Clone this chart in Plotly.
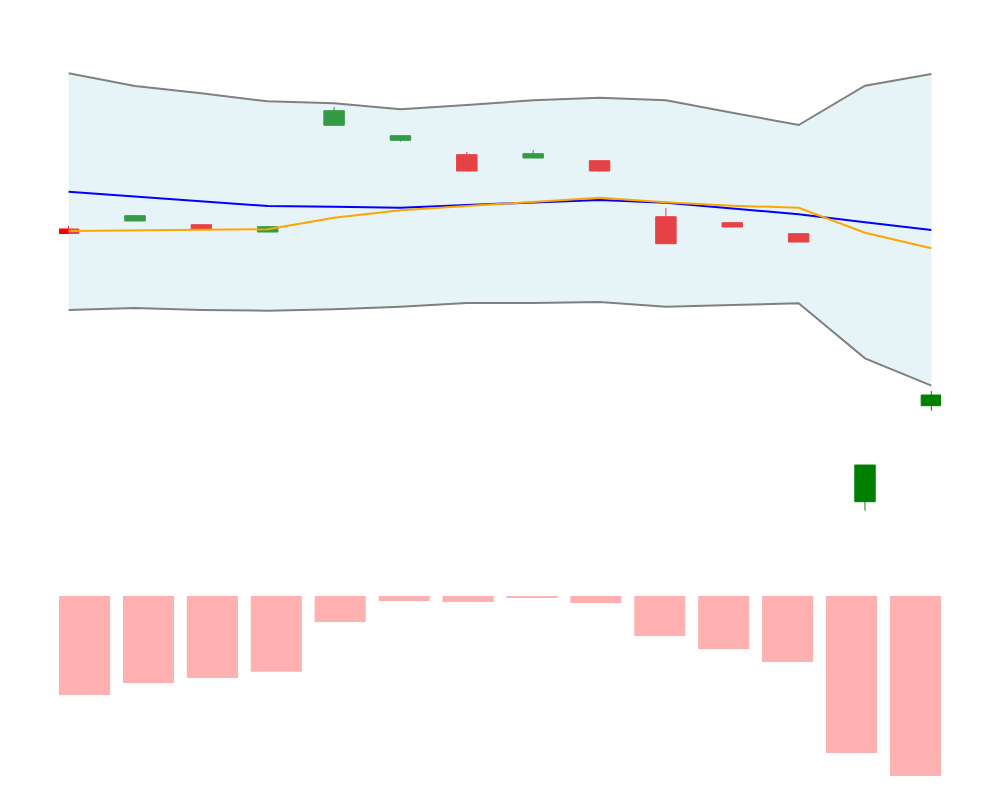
import plotly.graph_objects as go

# ---- data ----
days = list(range(14))

open_ = [127.10, 127.90, 127.53, 126.80, 137.47, 135.97, 134.53, 134.20, 133.93, 128.33, 127.73, 126.63, 99.83, 109.43]
high_ = [127.40, 128.50, 127.60, 127.40, 139.30, 136.43, 134.80, 135.00, 134.00, 129.20, 127.73, 126.63, 103.50, 110.90]
low_ = [126.63, 127.90, 127.10, 126.80, 137.43, 135.83, 132.83, 134.20, 132.83, 125.63, 127.23, 125.80, 98.93, 108.93]
close_ = [126.65, 128.43, 127.10, 127.33, 138.93, 136.43, 132.90, 134.63, 132.90, 125.63, 127.30, 125.80, 103.50, 110.50]

upper_band = [142.67, 141.40, 140.67, 139.87, 139.67, 139.07, 139.50, 139.97, 140.23, 139.97, 138.73, 137.50, 141.43, 142.60]
middle_band = [130.83, 130.33, 129.83, 129.40, 129.33, 129.23, 129.50, 129.73, 130.00, 129.73, 129.17, 128.57, 127.77, 127.00]
lower_band = [119.00, 119.20, 119.00, 118.93, 119.07, 119.33, 119.70, 119.70, 119.80, 119.33, 119.50, 119.67, 114.17, 111.43]
short_ma = [126.90, 127.00, 127.03, 127.07, 128.23, 128.97, 129.40, 129.83, 130.23, 129.77, 129.43, 129.23, 126.73, 125.17]

volume = [990000, 870000, 820000, 757000, 260000, 50000, 60000, 20000, 70000, 400000, 530000, 660000, 1570000, 1800000]

fig = go.Figure()

fig.add_trace(go.Candlestick(
    x=days, open=open_, high=high_, low=low_, close=close_,
    increasing=dict(line=dict(color="green", width=1), fillcolor="green"),
    decreasing=dict(line=dict(color="red", width=1), fillcolor="red"),
    whiskerwidth=0,
    xaxis="x", yaxis="y", showlegend=False,
))

fig.add_trace(go.Scatter(
    x=days, y=upper_band, mode="lines",
    line=dict(color="gray", width=2),
    xaxis="x", yaxis="y", showlegend=False,
))
fig.add_trace(go.Scatter(
    x=days, y=lower_band, mode="lines",
    line=dict(color="gray", width=2),
    fill="tonexty", fillcolor="rgba(173,216,230,0.3)",
    xaxis="x", yaxis="y", showlegend=False,
))
fig.add_trace(go.Scatter(
    x=days, y=middle_band, mode="lines",
    line=dict(color="blue", width=2),
    xaxis="x", yaxis="y", showlegend=False,
))
fig.add_trace(go.Scatter(
    x=days, y=short_ma, mode="lines",
    line=dict(color="orange", width=2),
    xaxis="x", yaxis="y", showlegend=False,
))

fig.add_trace(go.Bar(
    x=days, y=volume, marker=dict(color="red", line=dict(width=0)), opacity=0.3,
    xaxis="x2", yaxis="y2", showlegend=False,
))

fig.update_layout(
    width=1000, height=800,
    margin=dict(l=59, r=59, t=0, b=0, pad=0),
    paper_bgcolor="white", plot_bgcolor="white",
    showlegend=False,
    boxgap=0.56,
    xaxis=dict(domain=[0, 1], anchor="y", range=[-0.145, 13.145], visible=False,
               rangeslider=dict(visible=False)),
    yaxis=dict(domain=[0.3, 1.0], anchor="x", range=[94, 150], visible=False),
    xaxis2=dict(domain=[0, 1], anchor="y2", range=[-0.4, 13.4], visible=False),
    yaxis2=dict(domain=[0.0125, 0.255], anchor="x2", range=[1940000, 0], visible=False),
)

fig.write_html("out.html")
